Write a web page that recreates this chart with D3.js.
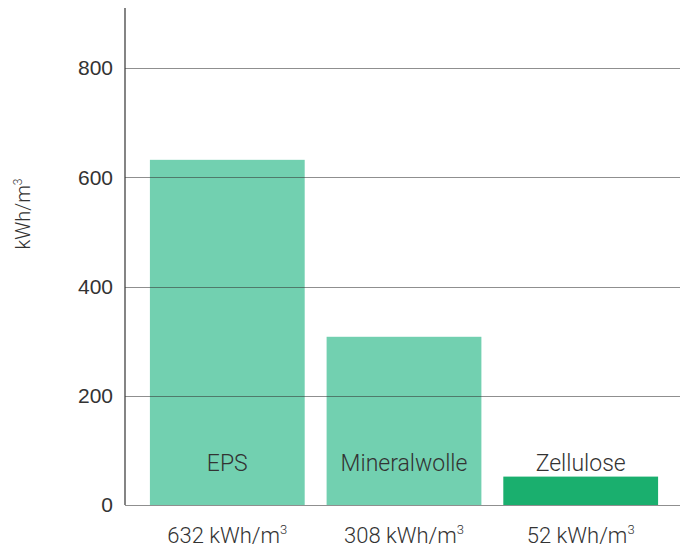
<!DOCTYPE html>
<html lang="de">
<head>
    <meta charset="UTF-8">
    <title>Primärenergie Dämmstoffe</title>
    <script src="https://d3js.org/d3.v7.min.js"></script>
    <style>
        body { margin: 0; background: #fff; }
        svg { font-family: Roboto, "Noto Sans", sans-serif; font-weight: 300; }
        .grid line { stroke: #333; stroke-opacity: 0.55; shape-rendering: crispEdges; }
        .grid text { font-size: 21px; fill: #333; }
    </style>
</head>
<body>
    <div id="chart"></div>
    <script>
        const categories = ["EPS", "Mineralwolle", "Zellulose"];
        const values = [632, 308, 52];
        const tickValues = [0, 200, 400, 600, 800];
        const unit = "kWh/m";

        const W = 688, H = 549;
        const axisX = 125, baseY = 505, topY = 8, rightX = 680;

        const svg = d3.select("#chart").append("svg")
            .attr("width", W)
            .attr("height", H);

        const x = d3.scaleBand()
            .domain(categories)
            .range([128, rightX])
            .paddingInner(0.124)
            .paddingOuter(0.124);

        const y = d3.scaleLinear()
            .domain([0, 910])
            .range([baseY, topY]);

        const color = d => d === "Zellulose" ? "#1aaf6e" : "#72d0b0";

        // bars
        svg.selectAll(".bar")
            .data(categories)
            .enter().append("rect")
            .attr("class", "bar")
            .attr("x", d => x(d))
            .attr("width", x.bandwidth())
            .attr("y", (d, i) => y(values[i]))
            .attr("height", (d, i) => y(0) - y(values[i]))
            .attr("fill", d => color(d));

        // gridlines + tick labels, drawn over the bars
        const grid = svg.append("g")
            .attr("class", "grid")
            .attr("transform", "translate(" + axisX + ",0)")
            .call(d3.axisLeft(y)
                .tickValues(tickValues)
                .tickSizeInner(-(rightX - axisX))
                .tickSizeOuter(0)
                .tickPadding(12));
        grid.select(".domain").remove();

        // vertical axis line
        svg.append("line")
            .attr("x1", axisX).attr("x2", axisX)
            .attr("y1", y.range()[1]).attr("y2", y(0))
            .attr("stroke", "#333")
            .attr("stroke-width", 1.2);

        // category names inside / above the bars
        svg.selectAll(".cat")
            .data(categories)
            .enter().append("text")
            .attr("class", "cat")
            .attr("x", d => x(d) + x.bandwidth() / 2)
            .attr("y", y(0) - 34)
            .attr("text-anchor", "middle")
            .attr("font-size", 23)
            .attr("fill", "#333")
            .text(d => d);

        // value labels under the axis
        const vl = svg.selectAll(".val")
            .data(categories)
            .enter().append("text")
            .attr("class", "val")
            .attr("x", d => x(d) + x.bandwidth() / 2)
            .attr("y", 543)
            .attr("text-anchor", "middle")
            .attr("font-size", 22)
            .attr("fill", "#333");
        vl.append("tspan").text((d, i) => values[i] + " " + unit);
        vl.append("tspan")
            .attr("font-size", 13)
            .attr("dy", -9)
            .text("3");

        // y title
        const yt = svg.append("text")
            .attr("transform", "translate(30,214) rotate(-90)")
            .attr("text-anchor", "middle")
            .attr("font-size", 20)
            .attr("fill", "#333");
        yt.append("tspan").text(unit);
        yt.append("tspan")
            .attr("font-size", 12)
            .attr("dy", -8)
            .text("3");
    </script>
</body>
</html>
